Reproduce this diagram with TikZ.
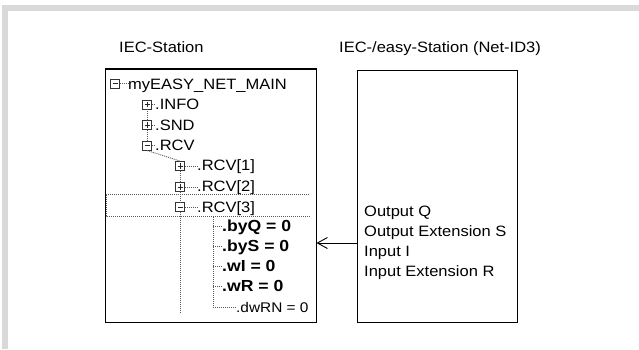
\documentclass[tikz,border=0pt]{standalone}
\usepackage{fontspec}
\setmainfont[FakeStretch=1.1]{Liberation Sans}
\usetikzlibrary{arrows.meta}
\begin{document}
\begin{tikzpicture}[x=1pt,y=-1pt,
  txt/.style={anchor=base west,inner sep=0pt,font=\fontsize{15}{18}\selectfont},
  btxt/.style={anchor=base west,inner sep=0pt,font=\fontsize{16}{19}\selectfont\bfseries},
  stxt/.style={anchor=base west,inner sep=0pt,font=\fontsize{14}{17}\selectfont},
  box/.style={draw,line width=1pt,inner sep=0pt},
  tline/.style={draw=black!65,line width=0.9pt,dash pattern=on 1pt off 1pt},
  icon/.style={draw=black!80,line width=0.9pt,minimum size=9pt,inner sep=0pt,
    path picture={\draw[black!85,line width=0.9pt]
      ([xshift=2pt]path picture bounding box.west) -- ([xshift=-2pt]path picture bounding box.east);}},
  iconplus/.style={icon,
    append after command={\pgfextra{\draw[black!85,line width=0.9pt]
      ([yshift=2pt]\tikzlastnode.south) -- ([yshift=-2pt]\tikzlastnode.north);}}},
  arr/.style={line width=0.9pt,-{Straight Barb[length=10pt,width=11pt,line width=0.9pt]}}
]
\useasboundingbox (0,0) rectangle (639,349);
% page frame
\fill[black!15] (2,5) rectangle (639,11);
\fill[black!15] (2,5) rectangle (8,349);

% titles
\node[txt] (t1) at (119,52.7) {IEC-Station};
\node[txt] (t2) at (339,52.7) {IEC-/easy-Station (Net-ID3)};

% boxes
\node[box,minimum width=211pt,minimum height=253pt] (lbox) at (210.5,195.5) {};
\draw[line width=2pt] ([yshift=-0.5pt]lbox.north west) -- ([yshift=-0.5pt]lbox.north east);
\node[box,minimum width=160pt,minimum height=252pt] (rbox) at (437,196) {};

% highlight of selected row
\draw[tline,line width=0.8pt] (309,194) -- (106,194) -- (106,216) -- (311,216);

% icons
\node[icon] (i0) at (115,83.5) {};
\node[iconplus] (i1) at (147,104.5) {};
\node[iconplus] (i2) at (147,125) {};
\node[icon] (i3) at (147,145.5) {};
\node[iconplus] (i4) at (180,166) {};
\node[iconplus] (i5) at (180,187) {};
\node[icon] (i6) at (180,207) {};

% tree texts
\node[txt] (n0) at (128,89) {myEASY\_NET\_MAIN};
\node[txt] (n1) at (155,109.3) {.INFO};
\node[txt] (n2) at (155,130) {.SND};
\node[txt] (n3) at (155,150) {.RCV};
\node[txt] (n4) at (197,170.7) {.RCV[1]};
\node[txt] (n5) at (197,191.7) {.RCV[2]};
\node[txt] (n6) at (197,212) {.RCV[3]};
\node[btxt] (n7) at (222,231.5) {.byQ = 0};
\node[btxt] (n8) at (222,251.7) {.byS = 0};
\node[btxt] (n9) at (222,271.5) {.wI = 0};
\node[btxt] (n10) at (222,291.7) {.wR = 0};
\node[stxt] (n11) at (236,312.5) {.dwRN = 0};

% tree connectors
\draw[tline] (i0.east) -- (i0.east -| n0.west);
\draw[tline] (i1.east) -- (i1.east -| n1.west);
\draw[tline] (i2.east) -- (i2.east -| n2.west);
\draw[tline] (i3.east) -- (i3.east -| n3.west);
\draw[tline] (i4.east) -- (i4.east -| n4.west);
\draw[tline] (i5.east) -- (i5.east -| n5.west);
\draw[tline] (i6.east) -- (i6.east -| n6.west);
\draw[tline] (i1.south) -- (i2.north);
\draw[tline] (i2.south) -- (i3.north);
\draw[tline] (i3.south) -- (i4.north);
\draw[tline] (i4.south) -- (i5.north);
\draw[tline] (i5.south) -- (i6.north);
\coordinate (treebot) at (0,313);
\draw[tline] (i6.south) -- (i6.south |- treebot);
\coordinate (l4top) at (213,217);
\coordinate (l4bot) at (213,307.5);
\draw[tline] (l4top) -- (l4bot);
\draw[tline] (l4top |- 0,226.5) -- (n7.west |- 0,226.5);
\draw[tline] (l4top |- 0,246.5) -- (n8.west |- 0,246.5);
\draw[tline] (l4top |- 0,266.5) -- (n9.west |- 0,266.5);
\draw[tline] (l4top |- 0,286.5) -- (n10.west |- 0,286.5);
\draw[tline] (l4bot) -- (n11.west |- l4bot);

% right box contents
\node[txt] (r1) at (364,216.7) {Output Q};
\node[txt] (r2) at (364,236.7) {Output Extension S};
\node[txt] (r3) at (364,256.7) {Input I};
\node[txt] (r4) at (364,276.7) {Input Extension R};

% connector
\coordinate (alevel) at (0,243);
\draw[arr] (alevel -| rbox.west) -- (alevel -| lbox.east);
\end{tikzpicture}
\end{document}
